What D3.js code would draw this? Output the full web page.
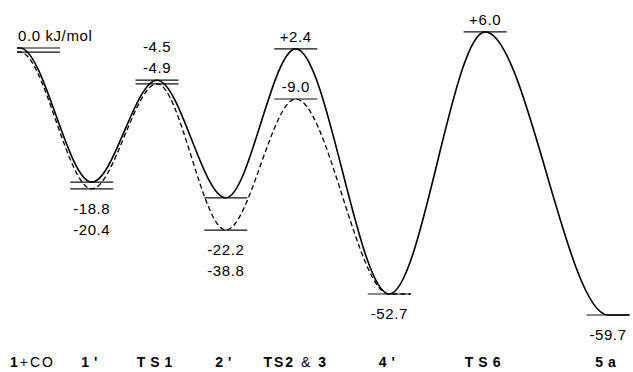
<!DOCTYPE html>
<html>
<head>
<meta charset="utf-8">
<script src="https://cdn.jsdelivr.net/npm/d3@7"></script>
<style>
body { margin: 0; background: #fff; }
text { font-family: "Liberation Sans", Arial, sans-serif; fill: #000; }
</style>
</head>
<body>
<svg id="chart" width="633" height="372"></svg>
<script>
var states = ["1+CO", "1'", "TS1", "2'", "TS2 & 3", "4'", "TS6", "5a"];
var coord = [0, 1.22, 2.33, 3.50, 4.69, 6.28, 7.91, 10];
// printed energies, kJ/mol
var solidEnergy = [0.0, -18.8, -4.5, -22.2, 2.4, -52.7, 6.0, -59.7];
var dashedEnergy = [0.0, -20.4, -4.9, -38.8, -9.0, -52.7];
// heights as drawn (the diagram is schematic, not to scale)
var solidLevel = [0.0, -30.0, -7.2, -33.5, -0.2, -55.0, 3.6, -59.7];
var dashedLevel = [-0.9, -31.5, -8.0, -40.7, -11.4, -55.0];
var unit = " kJ/mol";

var svg = d3.select("#chart");
var x = d3.scaleLinear().domain([0, 10]).range([20, 608]);
var y = d3.scaleLinear().domain([0, -59.7]).range([48, 315]);
var half = 21.5;

function span(i) {
	var cx = x(coord[i]);
	if (i == 0) return [cx - 3, cx + 40];
	return [cx - half, cx + half];
}
function fmt(v) {
	return v > 0 ? "+" + v.toFixed(1) : v.toFixed(1);
}

// level lines
var levels = [];
states.forEach(function(s, i) {
	levels.push({ i: i, level: solidLevel[i] });
	if (i < dashedLevel.length && dashedLevel[i] != solidLevel[i])
		levels.push({ i: i, level: dashedLevel[i] });
});
svg.selectAll("line.level").data(levels).enter().append("line")
	.attr("class", "level")
	.attr("x1", function(d) { return span(d.i)[0]; })
	.attr("x2", function(d) { return span(d.i)[1]; })
	.attr("y1", function(d) { return y(d.level); })
	.attr("y2", function(d) { return y(d.level); })
	.style("stroke", "#111").style("stroke-width", 1.2);

// curves
function pathPoints(lv) {
	var n = lv.length;
	var pts = [[span(0)[0], y(lv[0])]];
	lv.forEach(function(v, i) { pts.push([x(coord[i]), y(v)]); });
	pts.push([span(n - 1)[1], y(lv[n - 1])]);
	return pts;
}
var line = d3.line().curve(d3.curveMonotoneX);

svg.append("path").attr("d", line(pathPoints(dashedLevel)))
	.style("fill", "none").style("stroke", "#000")
	.style("stroke-width", 1.3).style("stroke-dasharray", "5,3");
svg.append("path").attr("d", line(pathPoints(solidLevel)))
	.style("fill", "none").style("stroke", "#000").style("stroke-width", 1.6);

// energy labels
var labels = [];
states.forEach(function(s, i) {
	var items = [{ level: solidLevel[i], e: solidEnergy[i] }];
	if (i < dashedEnergy.length && dashedEnergy[i] != solidEnergy[i])
		items.push({ level: dashedLevel[i], e: dashedEnergy[i] });
	var lvls = [solidLevel[i]];
	if (i < dashedLevel.length) lvls.push(dashedLevel[i]);
	var ys = lvls.map(y);
	var peak = (i == 0) || (i < states.length - 1 && solidLevel[i] > solidLevel[i - 1]);
	var cx = (span(i)[0] + span(i)[1]) / 2;
	// top to bottom
	items.sort(function(a, b) { return b.level - a.level; });
	if (peak) {
		var prev = Infinity;
		for (var k = items.length - 1; k >= 0; k--) {
			var ly = y(items[k].level);
			var top = d3.min(ys.filter(function(v) { return Math.abs(v - ly) < 15; }));
			prev = Math.min(top - 7, prev - 21);
			items[k].by = prev;
		}
	} else {
		var bottom = d3.max(ys);
		items.forEach(function(d, k) { d.by = bottom + 25 + 21 * k; });
	}
	items.forEach(function(d) {
		labels.push({
			text: fmt(d.e) + (i == 0 ? unit : ""),
			x: i == 0 ? span(i)[0] + 1 : cx,
			y: d.by,
			anchor: i == 0 ? "start" : "middle"
		});
	});
});
svg.selectAll("text.energy").data(labels).enter().append("text")
	.attr("class", "energy")
	.attr("x", function(d) { return d.x; })
	.attr("y", function(d) { return d.y; })
	.attr("text-anchor", function(d) { return d.anchor; })
	.style("font-size", "15px").style("letter-spacing", "0.6px")
	.text(function(d) { return d.text; });

// state names along the bottom
var names = svg.selectAll("text.state").data(states).enter().append("text")
	.attr("class", "state")
	.attr("x", function(d, i) { return i == 0 ? span(i)[0] - 7 : (span(i)[0] + span(i)[1]) / 2; })
	.attr("y", 367)
	.attr("text-anchor", function(d, i) { return i == 0 ? "start" : "middle"; })
	.style("font-size", "14px")
	.style("letter-spacing", function(d) { return d.length > 3 ? "2px" : "5px"; });
names.each(function(d) {
	var t = d3.select(this);
	d.split(/(\+CO|&)/).forEach(function(p) {
		if (!p) return;
		t.append("tspan").text(p)
			.style("font-weight", /\+CO|&/.test(p) ? "normal" : "bold");
	});
});
</script>
</body>
</html>
